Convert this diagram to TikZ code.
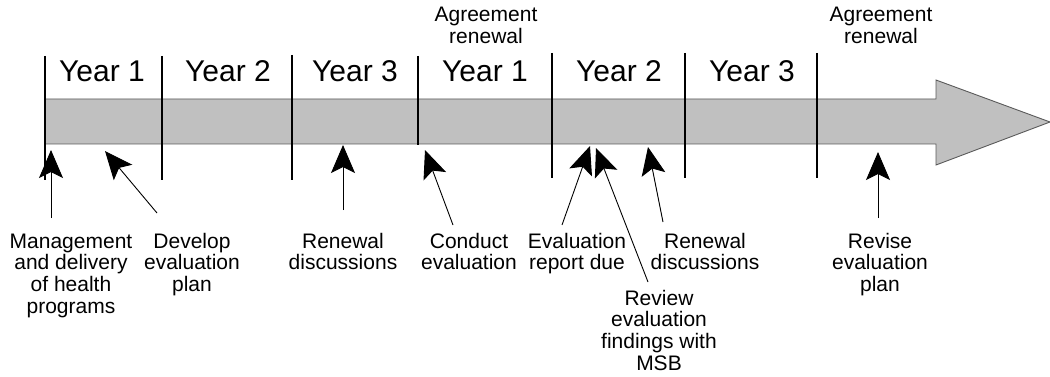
\documentclass[tikz,border=0pt]{standalone}
\usepackage{fontspec}
\setmainfont{Liberation Sans}
\usetikzlibrary{arrows.meta}
\definecolor{bandfill}{HTML}{C0C0C0}
\definecolor{bandline}{HTML}{5A5A5A}
\begin{document}
\begin{tikzpicture}[x=1pt,y=-1pt,
  yearlbl/.style={anchor=base,inner sep=0pt,font=\fontsize{30}{31}\selectfont},
  lbl/.style={anchor=base,inner sep=0pt,align=center,font=\fontsize{21}{21.7}\selectfont},
  divider/.style={line width=2.8pt,black},
  pointer/.style={line width=0.9pt,-{Stealth[length=28pt,width=24pt,inset=6pt]}}]
\useasboundingbox (0,0) rectangle (1050,377);
% band arrow
\draw[fill=bandfill,draw=bandline,line width=0.9pt]
  (45,99) -- (936,99) -- (936,80) -- (1050,122) -- (936,165) -- (936,144) -- (45,144) -- cycle;
% dividers
\draw[divider] (45,56) -- (45,180);
\draw[divider] (162,56) -- (162,180);
\draw[divider] (292,55) -- (292,180);
\draw[divider] (418,56) -- (418,145);
\draw[divider] (552,53) -- (552,178);
\draw[divider] (685,53) -- (685,178);
\draw[divider] (817,53) -- (817,178);
% years
\node[yearlbl] (y1) at (102,82) {Year 1};
\node[yearlbl] (y2) at (228,82) {Year 2};
\node[yearlbl] (y3) at (355,82) {Year 3};
\node[yearlbl] (y4) at (485,82) {Year 1};
\node[yearlbl] (y5) at (619,82) {Year 2};
\node[yearlbl] (y6) at (752,82) {Year 3};
% top labels (anchor = baseline of last line)
\node[lbl] (ag1) at (486,43.7) {Agreement\\renewal};
\node[lbl] (ag2) at (881,43.7) {Agreement\\renewal};
% bottom labels
\node[lbl] (mgmt) at (71,313.1) {Management\\and delivery\\of health\\programs};
\node[lbl] (dev) at (192,291.4) {Develop\\evaluation\\plan};
\node[lbl] (ren1) at (343,269.7) {Renewal\\discussions};
\node[lbl] (cond) at (469,269.7) {Conduct\\evaluation};
\node[lbl] (evrep) at (577,269.7) {Evaluation\\report due};
\node[lbl] (ren2) at (705,269.7) {Renewal\\discussions};
\node[lbl] (rev) at (659,370.1) {Review\\evaluation\\findings with\\MSB};
\node[lbl] (revise) at (880,291.4) {Revise\\evaluation\\plan};
% pointer ends
\coordinate (t1) at (51,218);  \coordinate (h1) at (51,150);
\coordinate (t2) at (157,213); \coordinate (h2) at (105,151);
\coordinate (t3) at (343,210); \coordinate (h3) at (343,145);
\coordinate (t4) at (453,225); \coordinate (h4) at (425,150);
\coordinate (t5) at (562,225); \coordinate (h5) at (590,146);
\coordinate (t6) at (648,282); \coordinate (h6) at (596,148);
\coordinate (t7) at (663,222); \coordinate (h7) at (648,147);
\coordinate (t8) at (878,218); \coordinate (h8) at (878,152);
\foreach \i in {1,...,8} \draw[pointer] (t\i) -- (h\i);
\end{tikzpicture}
\end{document}
